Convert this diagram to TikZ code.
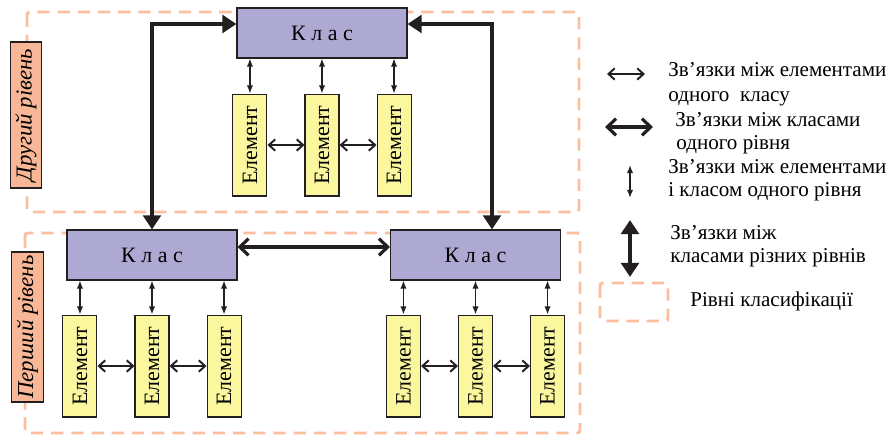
\documentclass[tikz,border=0pt]{standalone}
\usepackage{fontspec}
\setmainfont{Liberation Serif}
\usetikzlibrary{arrows.meta,positioning}
\definecolor{classFill}{HTML}{ADA9D3}
\definecolor{elemFill}{HTML}{FBF79F}
\definecolor{levelFill}{HTML}{F8B897}
\definecolor{levelLine}{HTML}{FBBF9F}
\definecolor{linkColor}{HTML}{231F20}
\tikzset{
myClass/.style={
	rectangle,draw=linkColor,fill=classFill,line width=0.6pt,
	inner sep=0pt,minimum width=3.4cm,minimum height=1cm,
	font=\fontsize{12.5}{14}\selectfont
}
, myElem/.style={
	rectangle,draw=linkColor,fill=elemFill,line width=0.6pt,
	inner sep=0pt,minimum width=0.68cm,minimum height=2.04cm,
	font=\fontsize{12.5}{14}\selectfont
}
, myLevelName/.style={
	rectangle,draw=linkColor,fill=levelFill,line width=0.6pt,
	inner sep=0pt,minimum width=0.63cm,
	font=\fontsize{13}{15}\selectfont\itshape
}
, myLevel/.style={
	draw=levelLine,line width=1.7pt,dash pattern=on 7pt off 4.5pt,
	rounded corners=1.5pt
}
, myKey/.style={anchor=base west,inner sep=0pt,font=\fontsize{12}{14}\selectfont}
% links
, myElemLink/.style={<->,>={Straight Barb[length=3.6pt,width=6.5pt]},color=linkColor,line width=1.1pt}
, myClassElem/.style={<->,>={Latex[length=4.6pt,width=3.6pt]},color=linkColor,line width=0.8pt}
, myClassLink/.style={<->,>={Straight Barb[length=5pt,width=9.5pt]},color=linkColor,line width=1.8pt}
, myLevelLink/.style={<->,>={Triangle[length=8pt,width=10pt]},color=linkColor,line width=2.1pt}
}

\begin{document}
\begin{tikzpicture}[x=0.02cm,y=-0.02cm]
	\useasboundingbox (0,0) rectangle (890,435);
	% levels
	\draw[myLevel] (27,12) rectangle (579,212);
	\draw[myLevel] (25,233) rectangle (580,433);
	\node[myLevelName,minimum height=2.92cm] (LevelTwo) at (26,115) {\rotatebox{90}{Другий рівень}};
	\node[myLevelName,minimum height=3cm] (LevelOne) at (27.5,327) {\rotatebox{90}{Перший рівень}};

	% classes
	\node[myClass] (CT) at (322,33) {К л а с};
	\node[myClass] (C1) at (152,255) {К л а с};
	\node[myClass] (C2) at (475.5,255) {К л а с};

	% elements, second level
	\node[myElem] (ET2) [below=0.7cm of CT] {\rotatebox{90}{Елемент}};
	\node[myElem] (ET1) [left=0.74cm of ET2] {\rotatebox{90}{Елемент}};
	\node[myElem] (ET3) [right=0.74cm of ET2] {\rotatebox{90}{Елемент}};
	% elements, first level
	\node[myElem] (E1b) [below=0.68cm of C1] {\rotatebox{90}{Елемент}};
	\node[myElem] (E1a) [left=0.74cm of E1b] {\rotatebox{90}{Елемент}};
	\node[myElem] (E1c) [right=0.74cm of E1b] {\rotatebox{90}{Елемент}};
	\node[myElem] (E2b) [below=0.68cm of C2] {\rotatebox{90}{Елемент}};
	\node[myElem] (E2a) [left=0.74cm of E2b] {\rotatebox{90}{Елемент}};
	\node[myElem] (E2c) [right=0.74cm of E2b] {\rotatebox{90}{Елемент}};

	% class - element
	\draw[myClassElem] (CT.south -| ET1) to (ET1.north);
	\draw[myClassElem] (CT.south -| ET2) to (ET2.north);
	\draw[myClassElem] (CT.south -| ET3) to (ET3.north);
	\draw[myClassElem] (C1.south -| E1a) to (E1a.north);
	\draw[myClassElem] (C1.south -| E1b) to (E1b.north);
	\draw[myClassElem] (C1.south -| E1c) to (E1c.north);
	\draw[myClassElem] (C2.south -| E2a) to (E2a.north);
	\draw[myClassElem] (C2.south -| E2b) to (E2b.north);
	\draw[myClassElem] (C2.south -| E2c) to (E2c.north);

	% element - element
	\draw[myElemLink] (ET1.east) to (ET2.west);
	\draw[myElemLink] (ET2.east) to (ET3.west);
	\draw[myElemLink] (E1a.east) to (E1b.west);
	\draw[myElemLink] (E1b.east) to (E1c.west);
	\draw[myElemLink] (E2a.east) to (E2b.west);
	\draw[myElemLink] (E2b.east) to (E2c.west);

	% class - class
	\draw[myClassLink] ([yshift=0.16cm]C1.east) to ([yshift=0.16cm]C2.west);
	\draw[myLevelLink] ([yshift=0.18cm]CT.west) -| (C1.north);
	\draw[myLevelLink] ([yshift=0.18cm]CT.east) -| ([xshift=0.33cm]C2.north);

	% legend
	\coordinate (K1s) at (607,74);  \coordinate (K1e) at (645,74);
	\coordinate (K2s) at (605,127); \coordinate (K2e) at (653,127);
	\coordinate (K3s) at (630,165); \coordinate (K3e) at (630,198);
	\coordinate (K4s) at (630,220); \coordinate (K4e) at (630,277);
	\draw[myElemLink] (K1s) to (K1e);
	\draw[myClassLink] (K2s) to (K2e);
	\draw[myClassElem] (K3s) to (K3e);
	\draw[myLevelLink] (K4s) to (K4e);
	\draw[myLevel] (600,283) rectangle (668,321);

	\node[myKey] (T1a) at (668,77) {Зв’язки між елементами};
	\node[myKey] (T1b) at (668,102) {одного~ класу};
	\node[myKey] (T2a) at (675,127) {Зв’язки між класами};
	\node[myKey] (T2b) at (676,150) {одного рівня};
	\node[myKey] (T3a) at (668,174) {Зв’язки між елементами};
	\node[myKey] (T3b) at (668,197) {і класом одного рівня};
	\node[myKey] (T4a) at (670,240) {Зв’язки між};
	\node[myKey] (T4b) at (670,263) {класами різних рівнів};
	\node[myKey] (T5) at (690,307) {Рівні класифікації};
\end{tikzpicture}
\end{document}
